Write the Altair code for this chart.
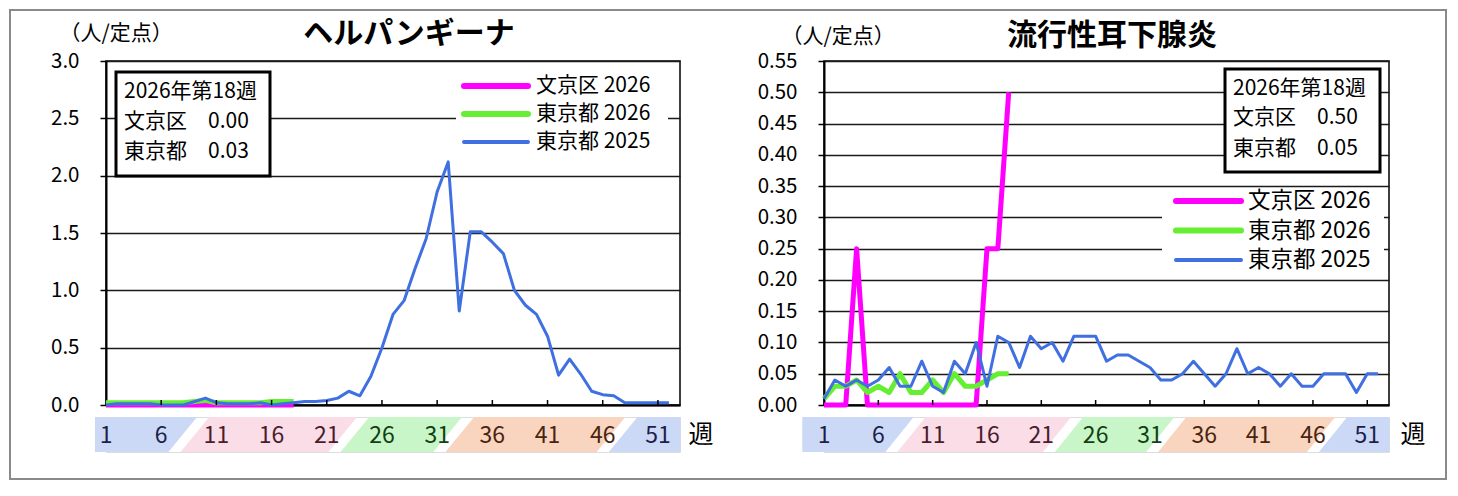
import altair as alt
import pandas as pd

FONT = "Noto Sans CJK JP"

# ---------------- data ----------------
weeks_2025 = list(range(1, 53))
weeks_2026 = list(range(1, 19))
tick_weeks = [1, 6, 11, 16, 21, 26, 31, 36, 41, 46, 51]

herp_bunkyo_2026 = [0.00, 0.00, 0.00, 0.00, 0.00, 0.00, 0.00, 0.00, 0.00,
                    0.00, 0.00, 0.00, 0.00, 0.00, 0.00, 0.00, 0.00, 0.00]
herp_tokyo_2026 = [0.02, 0.02, 0.02, 0.02, 0.02, 0.02, 0.02, 0.02, 0.03,
                   0.04, 0.02, 0.02, 0.02, 0.02, 0.02, 0.03, 0.03, 0.03]
herp_tokyo_2025 = [0.00, 0.01, 0.01, 0.01, 0.01, 0.00, 0.00, 0.00, 0.03, 0.06,
                   0.02, 0.01, 0.01, 0.01, 0.02, 0.00, 0.01, 0.02, 0.03, 0.03,
                   0.04, 0.06, 0.12, 0.08, 0.25, 0.50, 0.79, 0.91, 1.19, 1.45,
                   1.86, 2.12, 0.82, 1.51, 1.51, 1.42, 1.32, 1.00, 0.87, 0.79,
                   0.60, 0.26, 0.40, 0.27, 0.12, 0.09, 0.08, 0.02, 0.02, 0.02,
                   0.02, 0.02]

mumps_bunkyo_2026 = [0.00, 0.00, 0.00, 0.25, 0.00, 0.00, 0.00, 0.00, 0.00,
                     0.00, 0.00, 0.00, 0.00, 0.00, 0.00, 0.25, 0.25, 0.50]
mumps_tokyo_2026 = [0.01, 0.03, 0.03, 0.04, 0.02, 0.03, 0.02, 0.05, 0.02,
                    0.02, 0.04, 0.02, 0.05, 0.03, 0.03, 0.04, 0.05, 0.05]
mumps_tokyo_2025 = [0.01, 0.04, 0.03, 0.04, 0.03, 0.04, 0.06, 0.03, 0.03, 0.07,
                    0.03, 0.02, 0.07, 0.05, 0.10, 0.03, 0.11, 0.10, 0.06, 0.11,
                    0.09, 0.10, 0.07, 0.11, 0.11, 0.11, 0.07, 0.08, 0.08, 0.07,
                    0.06, 0.04, 0.04, 0.05, 0.07, 0.05, 0.03, 0.05, 0.09, 0.05,
                    0.06, 0.05, 0.03, 0.05, 0.03, 0.03, 0.05, 0.05, 0.05, 0.02,
                    0.05, 0.05]

series_names = ["文京区 2026", "東京都 2026", "東京都 2025"]
series_colors = ["#ff00ff", "#66ee33", "#3f6fe0"]
series_widths = [5, 5, 3]

season_splits = [8.5, 23.0, 32.5, 47.3]
season_fills = ["#ccd9f6", "#fbdde8", "#c8f6c8", "#f9d5bf", "#ccd9f6"]
season_text = ["#1c1f4a", "#4a1c2c", "#124012", "#4a2410", "#1c1f4a"]

one = pd.DataFrame({"k": [0]})


def band_frame(start, end, slant=2.6, gap=1.1):
    edges = [start] + season_splits + [end]
    rows = []
    for i in range(len(edges) - 1):
        L, R = edges[i], edges[i + 1]
        if i == 0:
            bl = tl = L
        else:
            bl, tl = L + gap / 2 - slant / 2, L + gap / 2 + slant / 2
        if i == len(edges) - 2:
            br = tr = R
        else:
            br, tr = R - gap / 2 - slant / 2, R - gap / 2 + slant / 2
        rows.append(dict(band=i, yy=0, xl=bl, xr=br, fill=season_fills[i]))
        rows.append(dict(band=i, yy=1, xl=tl, xr=tr, fill=season_fills[i]))
    return pd.DataFrame(rows)


def text_at(t, x, y, size, align="left", weight="normal", color="black"):
    return alt.Chart(pd.DataFrame({"t": [t]})).mark_text(
        font=FONT, fontSize=size, fontWeight=weight, align=align,
        baseline="middle", color=color, clip=False
    ).encode(text="t:N", x=alt.value(x), y=alt.value(y))


def panel(title, series, ymax, ystep, yfmt, width, height, o, frame=False):
    x_scale = alt.Scale(domain=[1, 53], nice=False, zero=False)
    x_enc = alt.X("week:Q", scale=x_scale,
                  axis=alt.Axis(labels=False, ticks=False, grid=False, title=None,
                                domainColor="black", domainWidth=2))
    n = int(round(ymax / ystep))
    yvals = [round(i * ystep, 2) for i in range(n + 1)]
    y_enc = alt.Y("value:Q", scale=alt.Scale(domain=[0, ymax], nice=False, zero=True),
                  axis=alt.Axis(values=yvals, format=yfmt, grid=True, gridColor="#1a1a1a",
                                gridWidth=1.5, tickColor="black", tickSize=6, tickWidth=1.5,
                                labelFont=FONT, labelFontSize=20.5, labelColor="black",
                                labelPadding=21, domainColor="black", domainWidth=2,
                                title="（人/定点）", titleAngle=0, titleX=o["ux"], titleY=o["uy"],
                                titleAlign="left", titleBaseline="middle", titleFont=FONT,
                                titleFontSize=21, titleFontWeight="normal", titleColor="black"))
    layers = []
    if frame:
        layers.append(alt.Chart(one).mark_rect(filled=False, stroke="#8a8a8a", strokeWidth=2, clip=False)
                      .encode(x=alt.value(-96), x2=alt.value(1340),
                              y=alt.value(-51), y2=alt.value(418)))
    for (weeks, vals), name, color, w in zip(series, series_names, series_colors, series_widths):
        df = pd.DataFrame({"week": weeks, "value": vals, "series": name})
        layers.append(alt.Chart(df).mark_line(color=color, strokeWidth=w, strokeJoin="round")
                      .encode(x=x_enc, y=y_enc))
    tdf = pd.DataFrame({"week": tick_weeks[1:]})
    layers.append(alt.Chart(tdf).mark_rule(color="black", strokeWidth=1.5)
                  .encode(x=x_enc, y=alt.value(height), y2=alt.value(height - 5)))
    # info box
    bx0, bx1, by0, by1 = o["box"]
    layers.append(alt.Chart(one).mark_rect(fill="white", stroke="black", strokeWidth=3)
                  .encode(x=alt.value(bx0), x2=alt.value(bx1), y=alt.value(by0), y2=alt.value(by1)))
    b26, t26 = series[0][1], series[1][1]
    wk = len(series[0][0])
    box_lines = [f"2026年第{wk}週", f"文京区\u3000{b26[-1]:.2f}", f"東京都\u3000{t26[-1]:.2f}"]
    for t, yy in zip(box_lines, o["box_rows"]):
        layers.append(text_at(t, o["box_tx"], yy, 21))
    # legend
    lx0, lx1, ly0, ly1 = o["leg"]
    layers.append(alt.Chart(one).mark_rect(fill="white")
                  .encode(x=alt.value(lx0), x2=alt.value(lx1), y=alt.value(ly0), y2=alt.value(ly1)))
    sx0, sx1 = o["leg_sym"]
    for name, color, w, yy in zip(series_names, series_colors, series_widths, o["leg_rows"]):
        layers.append(alt.Chart(one).mark_rule(color=color, strokeWidth=w + 1, strokeCap="round")
                      .encode(x=alt.value(sx0), x2=alt.value(sx1), y=alt.value(yy)))
        layers.append(text_at(name, o["leg_tx"], yy, o["leg_fs"]))
    # title
    layers.append(text_at(title, o["tx"], o["ty"], 30, align="center", weight="bold"))
    main = alt.layer(*layers).properties(
        width=width, height=height,
        view=alt.ViewBackground(stroke="black", strokeWidth=1.5))

    # season strip
    sh = 35
    bdf = band_frame(o["band_start"], 53.05)
    sx = alt.Scale(domain=[1, 53], nice=False, zero=False)
    area = alt.Chart(bdf).mark_area(orient="horizontal", clip=False, opacity=1).encode(
        y=alt.Y("yy:Q", scale=alt.Scale(domain=[0, 1], nice=False), axis=None),
        x=alt.X("xl:Q", scale=sx, axis=None), x2="xr:Q",
        color=alt.Color("fill:N", scale=None), detail="band:N")
    ldf = pd.DataFrame({
        "week": tick_weeks,
        "label": [str(w) for w in tick_weeks],
        "col": [season_text[sum(w > s for s in season_splits)] for w in tick_weeks],
    })
    labels = alt.Chart(ldf).mark_text(font=FONT, fontSize=23, align="center", baseline="middle").encode(
        x=alt.X("week:Q", scale=sx, axis=None), y=alt.value(sh / 2 + 1),
        text="label:N", color=alt.Color("col:N", scale=None))
    unit = text_at("週", width + o["wx"], sh / 2, 25, align="center")
    strip = alt.layer(area, labels, unit).properties(width=width, height=sh)
    return main, strip


left_main, left_strip = panel(
    "ヘルパンギーナ",
    [(weeks_2026, herp_bunkyo_2026), (weeks_2026, herp_tokyo_2026), (weeks_2025, herp_tokyo_2025)],
    3.0, 0.5, ".1f", 574, 344,
    dict(ux=-47, uy=-28, box=(10, 164, 11, 115), box_tx=18, box_rows=[31, 61, 91],
         leg=(350, 562, 10, 96), leg_sym=(358, 422), leg_rows=[25, 53, 81], leg_tx=430,
         leg_fs=21, tx=303, ty=-27, band_start=0.0, wx=21),
    frame=True)

right_main, right_strip = panel(
    "流行性耳下腺炎",
    [(weeks_2026, mumps_bunkyo_2026), (weeks_2026, mumps_tokyo_2026), (weeks_2025, mumps_tokyo_2025)],
    0.55, 0.05, ".2f", 565, 344,
    dict(ux=-43, uy=-25, box=(401, 556, 8, 111), box_tx=409, box_rows=[28, 57, 88],
         leg=(338, 560, 129, 213), leg_sym=(352, 417), leg_rows=[140, 169.5, 199], leg_tx=424,
         leg_fs=22.5, tx=288, ty=-25, band_start=-1.0, wx=24))

chart = alt.concat(
    left_main, right_main, left_strip, right_strip,
    columns=2, bounds="flush",
    spacing=alt.RowColnumber(row=12, column=144),
).properties(padding=0).configure_view(stroke="transparent").configure(font=FONT)

chart.save("out.html", embed_options={"renderer": "svg", "actions": False})
